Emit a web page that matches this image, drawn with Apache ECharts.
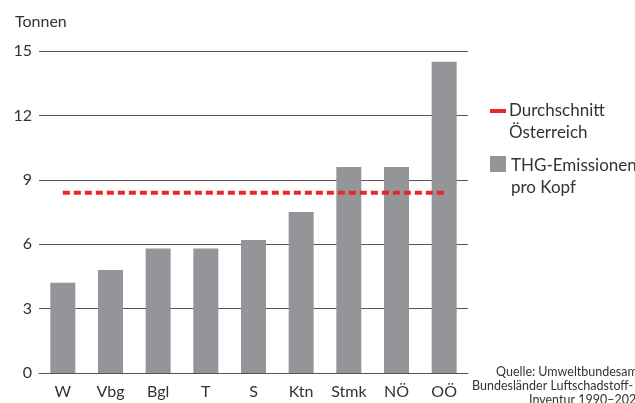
<!DOCTYPE html>
<html>
<head>
<meta charset="utf-8">
<script src="https://cdn.jsdelivr.net/npm/echarts@6/dist/echarts.min.js"></script>
<style>
  html, body { margin: 0; padding: 0; background: #fff; }
  #chart { width: 635px; height: 403px; }
</style>
</head>
<body>
<div id="chart"></div>
<script>
// Bundesländer (abbreviations) and per-capita greenhouse-gas emissions in tonnes
const categories = ['W', 'Vbg', 'Bgl', 'T', 'S', 'Ktn', 'Stmk', 'NÖ', 'OÖ'];
const emissionsPerCapita = [4.2, 4.8, 5.8, 5.8, 6.2, 7.5, 9.6, 9.6, 14.5];
const austriaAverage = 8.4;
const yTicks = { min: 0, max: 15, interval: 3 };
const sourceLines = ['Quelle: Umweltbundesamt,', 'Bundesländer Luftschadstoff-', 'Inventur 1990–2022'];

const FONT = 'Lato, "Liberation Sans", sans-serif';
const TEXT = '#333333';
const GREY = '#939598';
const RED = '#e6282b';

const chart = echarts.init(document.getElementById('chart'), null, { renderer: 'canvas' });

chart.setOption({
  animation: false,
  textStyle: { fontFamily: FONT, color: TEXT },
  grid: { left: 39, right: 167, top: 51, bottom: 30, containLabel: false },
  xAxis: {
    type: 'category',
    data: categories,
    axisLine: { lineStyle: { color: '#555', width: 1 } },
    axisTick: { show: false },
    axisLabel: { color: TEXT, fontSize: 16, fontFamily: FONT, margin: 11 }
  },
  yAxis: {
    type: 'value',
    min: yTicks.min,
    max: yTicks.max,
    interval: yTicks.interval,
    axisLine: { show: false },
    axisTick: { show: false },
    axisLabel: { color: TEXT, fontSize: 16, fontFamily: FONT, margin: 7 },
    splitLine: { lineStyle: { color: '#555', width: 1 } }
  },
  series: [
    {
      name: 'THG-Emissionen pro Kopf',
      type: 'bar',
      data: emissionsPerCapita,
      barWidth: 25,
      itemStyle: { color: GREY },
      z: 2
    },
    {
      name: 'Durchschnitt Österreich',
      type: 'line',
      data: categories.map(() => austriaAverage),
      symbol: 'none',
      lineStyle: { color: RED, width: 4, type: [7, 4] },
      z: 3
    }
  ],
  graphic: [
    { type: 'text', left: 15, top: 14,
      style: { text: 'Tonnen', font: '16px ' + FONT, fill: TEXT } },
    // legend: average line
    { type: 'rect', shape: { x: 490, y: 109, width: 16, height: 4 }, style: { fill: RED } },
    { type: 'text', x: 509, y: 100,
      style: { text: 'Durchschnitt\nÖsterreich', font: '17px ' + FONT, fill: TEXT, lineHeight: 22 } },
    // legend: bars
    { type: 'rect', shape: { x: 490, y: 156, width: 16, height: 16 }, style: { fill: GREY } },
    { type: 'text', x: 511, y: 155,
      style: { text: 'THG-Emissionen\npro Kopf', font: '17px ' + FONT, fill: TEXT, lineHeight: 22 } },
    // source note
    { type: 'text', x: 496, y: 365, style: { text: sourceLines[0], font: '12.5px ' + FONT, fill: TEXT } },
    { type: 'text', x: 472, y: 379, style: { text: sourceLines[1], font: '12.5px ' + FONT, fill: TEXT } },
    { type: 'text', x: 529, y: 393, style: { text: sourceLines[2], font: '12.5px ' + FONT, fill: TEXT } }
  ]
});
</script>
</body>
</html>
